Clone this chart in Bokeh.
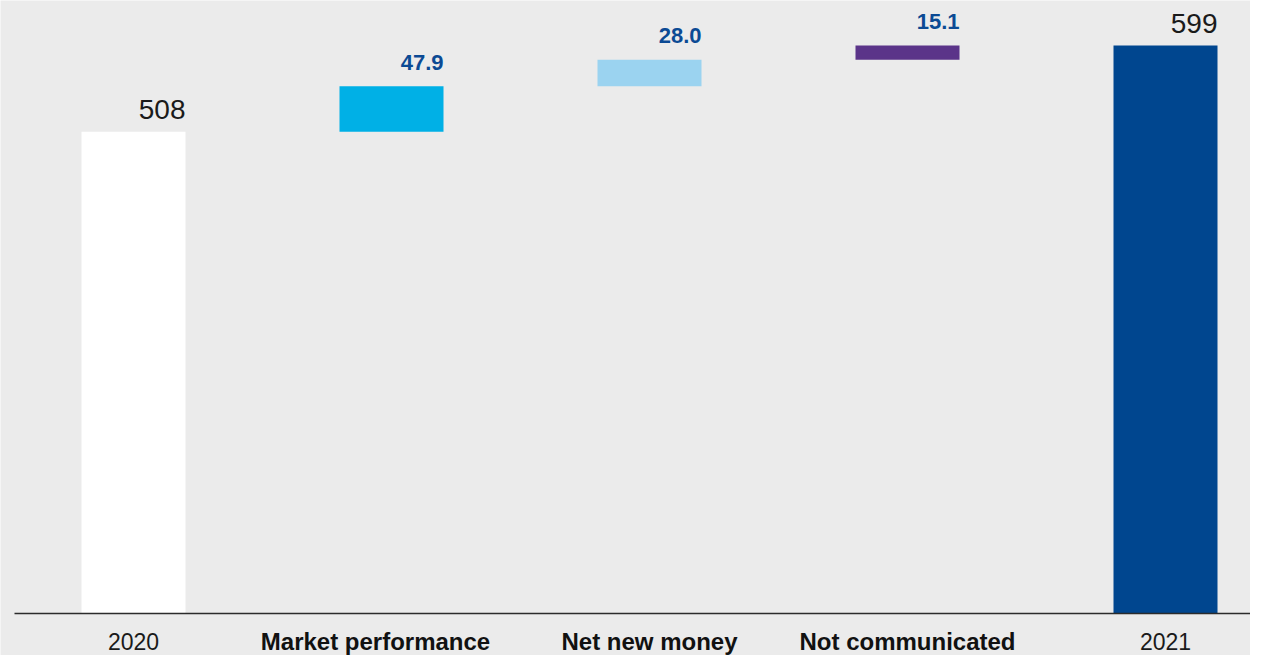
from bokeh.plotting import figure
from bokeh.models import ColumnDataSource, Range1d
from bokeh.core.properties import value
from bokeh.embed import file_html
from bokeh.resources import INLINE

# ---- data ----
categories = ["2020", "Market performance", "Net new money", "Not communicated", "2021"]
values = [508, 47.9, 28.0, 15.1, 599]
is_total = [True, False, False, False, True]

# ---- styles ----
bar_colors = ["#ffffff", "#00b0e6", "#9bd3f0", "#5b3489", "#00468f"]
label_shift_px = [0, -16, 0, 0, 0]
BG = "#ebebeb"
FONT = "Liberation Sans"

W, H = 1250, 655
base_px = 613          # baseline position (from top of figure)
top_px = 45            # position of the tallest bar top
spacing_px = 258
first_center_px = 133
bar_w_px = 104
label_mid_px = 641

# waterfall geometry
bottoms, tops = [], []
running = 0.0
for v, t in zip(values, is_total):
    if t:
        bottoms.append(0.0)
        tops.append(v)
        running = v
    else:
        bottoms.append(running)
        running += v
        tops.append(running)

ky = (base_px - top_px) / max(tops)        # px per unit
kx = spacing_px                            # px per category
y_start = -(H - base_px) / ky
y_end = base_px / ky
x_start = -first_center_px / kx
x_end = x_start + W / kx

xs = list(range(len(categories)))

p = figure(width=W, height=H, output_backend="svg", toolbar_location=None,
           x_range=Range1d(x_start, x_end), y_range=Range1d(y_start, y_end),
           min_border=0, min_border_left=0, min_border_right=0,
           min_border_top=0, min_border_bottom=0)
p.background_fill_color = BG
p.border_fill_color = BG
p.outline_line_color = None
p.grid.visible = False
p.axis.visible = False

src = ColumnDataSource(dict(x=xs, top=tops, bottom=bottoms, color=bar_colors))
p.vbar(x="x", width=bar_w_px / kx, top="top", bottom="bottom",
       fill_color="color", line_color=None, source=src)

# baseline
p.segment(x0=[x_start + 14 / kx], x1=[x_end], y0=[0], y1=[0],
          line_color="#2b2b2b", line_width=1.5)

# value labels (right-aligned at bar right edge)
right_x = [x + (bar_w_px / 2) / kx for x in xs]
tot_x = [rx for rx, t in zip(right_x, is_total) if t]
tot_y = [tp + 22 / ky for tp, t in zip(tops, is_total) if t]
tot_txt = [f"{v:.0f}" for v, t in zip(values, is_total) if t]
p.text(x=tot_x, y=tot_y, text=tot_txt, text_align="right",
       text_baseline="middle", text_font=value(FONT),
       text_font_size="28px", text_color="#1a1a1a")

d_x = [rx for rx, t in zip(right_x, is_total) if not t]
d_y = [tp + 24 / ky for tp, t in zip(tops, is_total) if not t]
d_txt = [f"{v:.1f}" for v, t in zip(values, is_total) if not t]
p.text(x=d_x, y=d_y, text=d_txt, text_align="right",
       text_baseline="middle", text_font=value(FONT),
       text_font_size="22px", text_font_style="bold", text_color="#0b4a94")

# category labels
lab_y = -(label_mid_px - base_px) / ky
yr_x = [x for x, t in zip(xs, is_total) if t]
yr_t = [c for c, t in zip(categories, is_total) if t]
p.text(x=yr_x, y=[lab_y] * len(yr_x), text=yr_t, text_align="center",
       text_baseline="middle", text_font=value(FONT),
       text_font_size="23px", text_color="#1a1a1a")
ct_x = [x + s / kx for x, s, t in zip(xs, label_shift_px, is_total) if not t]
ct_t = [c for c, t in zip(categories, is_total) if not t]
p.text(x=ct_x, y=[lab_y] * len(ct_x), text=ct_t, text_align="center",
       text_baseline="middle", text_font=value(FONT),
       text_font_size="24px", text_font_style="bold", text_color="#111111")

open("out.html", "w").write(file_html(p, INLINE))
